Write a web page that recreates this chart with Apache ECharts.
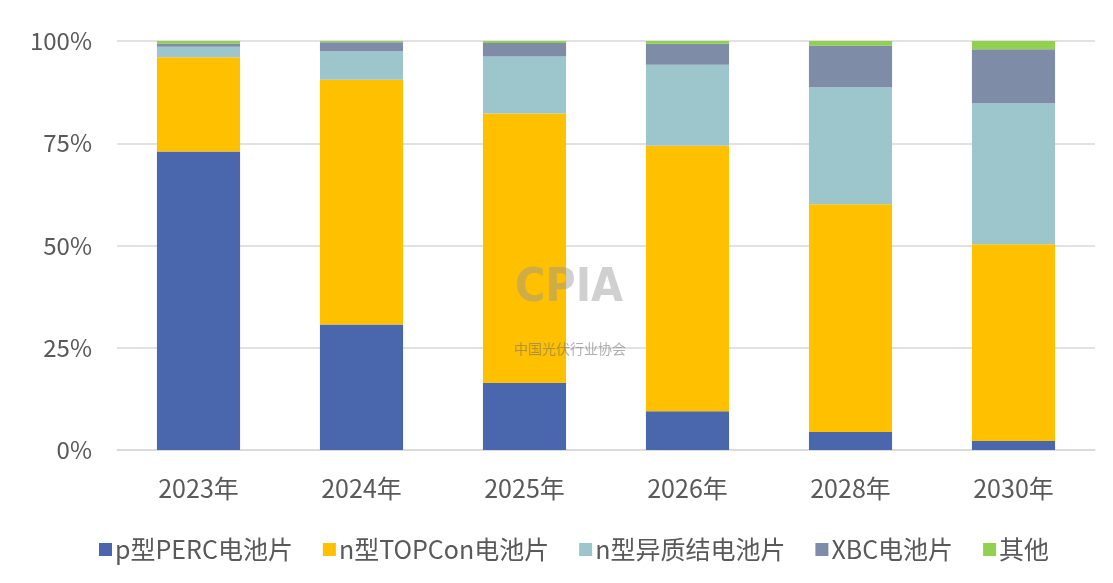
<!DOCTYPE html>
<html>
<head>
<meta charset="utf-8">
<script src="https://cdn.jsdelivr.net/npm/echarts@6/dist/echarts.min.js"></script>
<style>
  * { margin: 0; padding: 0; }
  html, body { width: 100%; height: 100%; background: #fff; }
  #chart { width: 1113px; height: 583px; }
</style>
</head>
<body>
<div id="chart"></div>
<script>
const years = ["2023年", "2024年", "2025年", "2026年", "2028年", "2030年"];
const perc = [73.0, 30.7, 16.4, 9.5, 4.4, 2.2];
const topcon = [23.0, 59.8, 65.9, 64.9, 55.7, 48.1];
const hjt = [2.6, 7.0, 13.9, 19.8, 28.6, 34.5];
const xbc = [0.8, 2.2, 3.3, 5.1, 10.2, 13.2];
const other = [0.6, 0.3, 0.5, 0.7, 1.1, 2.0];

const font = "'Noto Sans CJK SC', 'Noto Sans', sans-serif";

const chart = echarts.init(document.getElementById("chart"), null, { renderer: "canvas" });

function bar(name, data, color) {
  return {
    name: name,
    type: "bar",
    stack: "total",
    barWidth: "51%",
    itemStyle: { color: color },
    data: data,
  };
}

const option = {
  animation: false,
  textStyle: { fontFamily: font },
  grid: { left: 117, right: 18, top: 41, bottom: 133 },
  legend: {
    bottom: 16,
    left: 94,
    itemWidth: 13,
    itemHeight: 13,
    itemGap: 30,
    icon: "rect",
    textStyle: { fontSize: 25, color: "#595959", fontFamily: font, padding: [0, 0, 0, -2] },
  },
  xAxis: {
    type: "category",
    data: years,
    axisTick: { show: false },
    axisLine: { lineStyle: { color: "#d9d9d9", width: 1.5 } },
    axisLabel: { fontSize: 25, color: "#595959", margin: 26 },
  },
  yAxis: {
    type: "value",
    min: 0,
    max: 100,
    interval: 25,
    axisLabel: { formatter: "{value}%", fontSize: 24, color: "#595959", margin: 25 },
    splitLine: { lineStyle: { color: "#d9d9d9", width: 1.5 } },
    axisLine: { show: false },
    axisTick: { show: false },
  },
  graphic: [
    {
      type: "text",
      left: 515,
      top: 266,
      style: { text: "CPIA", fontSize: 46, fontWeight: "bold", fill: "rgba(150,150,150,0.45)", fontFamily: "'DejaVu Sans Condensed', sans-serif" },
      z: 10,
    },
    {
      type: "text",
      left: 514,
      top: 342,
      style: { text: "中国光伏行业协会", fontSize: 14, fill: "rgba(110,110,110,0.55)", fontFamily: font },
      z: 10,
    },
  ],
  series: [
    bar("p型PERC电池片", perc, "#4a67ad"),
    bar("n型TOPCon电池片", topcon, "#ffc000"),
    bar("n型异质结电池片", hjt, "#9dc5cc"),
    bar("XBC电池片", xbc, "#7f8ca8"),
    bar("其他", other, "#92d050"),
  ],
};

chart.setOption(option);
</script>
</body>
</html>
